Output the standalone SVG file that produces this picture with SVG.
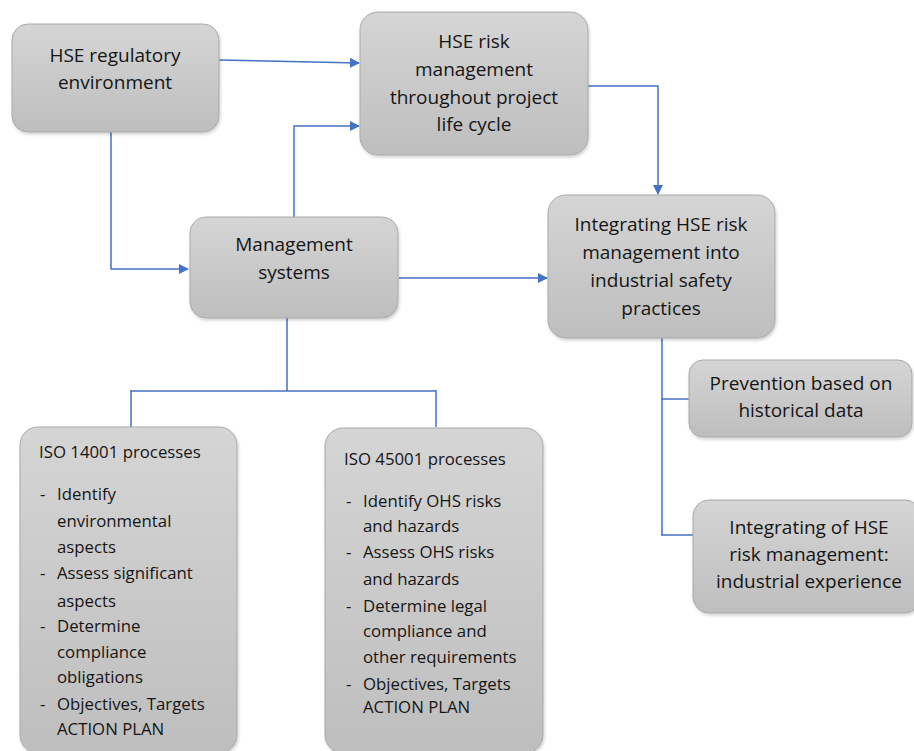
<svg xmlns="http://www.w3.org/2000/svg" width="914" height="751" viewBox="0 0 914 751">
<style>
.box{fill:url(#g);stroke:#a9a9a9;stroke-width:1;filter:url(#sh)}
.t{font-family:"Open Sans","Liberation Sans",sans-serif;font-size:19px;fill:#151515;text-anchor:middle}
.s{font-family:"Open Sans","Liberation Sans",sans-serif;font-size:16.8px;fill:#151515}
.c{fill:none;stroke:#4472C4;stroke-width:1.5}
.a{marker-end:url(#ah)}
</style>
<defs>
<linearGradient id="g" x1="0" y1="0" x2="0" y2="1">
<stop offset="0" stop-color="#d5d5d5"/>
<stop offset="1" stop-color="#bebebe"/>
</linearGradient>
<filter id="sh" x="-10%" y="-10%" width="120%" height="120%">
<feDropShadow dx="1" dy="2" stdDeviation="1.5" flood-color="#000" flood-opacity="0.18"/>
</filter>
<marker id="ah" markerWidth="10" markerHeight="10" refX="9" refY="5" orient="auto" markerUnits="userSpaceOnUse">
<path d="M0,0 L10,5 L0,10 Z" fill="#4472C4"/>
</marker>
</defs>
<rect width="914" height="751" fill="#fff"/>
<g id="connectors">
<path class="c a" d="M219,60 L359,63"/>
<path class="c a" d="M294,217 L294,126 L359,126"/>
<path class="c a" d="M111,132 L111,269 L188,269"/>
<path class="c a" d="M399,278 L547,278"/>
<path class="c a" d="M588,86 L658,86 L658,194"/>
<path class="c" d="M287,318 L287,391 M131,391 L436,391 M131,390 L131,427 M436,390 L436,427"/>
<path class="c" d="M662,338 L662,535 M661,399 L689,399 M661,535 L693,535"/>
</g>
<g id="n1">
<rect class="box" x="12" y="24" width="207" height="108" rx="16"/>
<text class="t" x="115" y="62">HSE regulatory</text>
<text class="t" x="115" y="89">environment</text>
</g>
<g id="n2">
<rect class="box" x="360" y="12" width="228" height="143" rx="18"/>
<text class="t" x="474" y="48">HSE risk</text>
<text class="t" x="474" y="76">management</text>
<text class="t" x="474" y="104">throughout project</text>
<text class="t" x="474" y="131">life cycle</text>
</g>
<g id="n3">
<rect class="box" x="190" y="217" width="208" height="101" rx="16"/>
<text class="t" x="294" y="251">Management</text>
<text class="t" x="294" y="279">systems</text>
</g>
<g id="n4">
<rect class="box" x="548" y="195" width="227" height="143" rx="18"/>
<text class="t" x="661" y="231">Integrating HSE risk</text>
<text class="t" x="661" y="259">management into</text>
<text class="t" x="661" y="287">industrial safety</text>
<text class="t" x="661" y="315">practices</text>
</g>
<g id="n5">
<rect class="box" x="689" y="360" width="223" height="77" rx="14"/>
<text class="t" x="801" y="390">Prevention based on</text>
<text class="t" x="801" y="417">historical data</text>
</g>
<g id="n6">
<rect class="box" x="693" y="500" width="228" height="113" rx="16"/>
<text class="t" x="809" y="534">Integrating of HSE</text>
<text class="t" x="809" y="561">risk management:</text>
<text class="t" x="809" y="588">industrial experience</text>
</g>
<g id="n7">
<rect class="box" x="20" y="427" width="217" height="326" rx="18"/>
<text class="s" x="39" y="458">ISO 14001 processes</text>
<text class="s" x="40" y="500">-</text><text class="s" x="57" y="500">Identify</text>
<text class="s" x="57" y="527">environmental</text>
<text class="s" x="57" y="553">aspects</text>
<text class="s" x="40" y="579">-</text><text class="s" x="57" y="579">Assess significant</text>
<text class="s" x="57" y="607">aspects</text>
<text class="s" x="40" y="632">-</text><text class="s" x="57" y="632">Determine</text>
<text class="s" x="57" y="658">compliance</text>
<text class="s" x="57" y="683">obligations</text>
<text class="s" x="40" y="710">-</text><text class="s" x="57" y="710">Objectives, Targets</text>
<text class="s" x="57" y="735">ACTION PLAN</text>
</g>
<g id="n8">
<rect class="box" x="325" y="428" width="218" height="325" rx="18"/>
<text class="s" x="344" y="465">ISO 45001 processes</text>
<text class="s" x="346" y="507">-</text><text class="s" x="363" y="507">Identify OHS risks</text>
<text class="s" x="363" y="532">and hazards</text>
<text class="s" x="346" y="558">-</text><text class="s" x="363" y="558">Assess OHS  risks</text>
<text class="s" x="363" y="585">and hazards</text>
<text class="s" x="346" y="612">-</text><text class="s" x="363" y="612">Determine legal</text>
<text class="s" x="363" y="637">compliance and</text>
<text class="s" x="363" y="663">other requirements</text>
<text class="s" x="346" y="690">-</text><text class="s" x="363" y="690">Objectives, Targets</text>
<text class="s" x="363" y="713">ACTION PLAN</text>
</g>
</svg>
